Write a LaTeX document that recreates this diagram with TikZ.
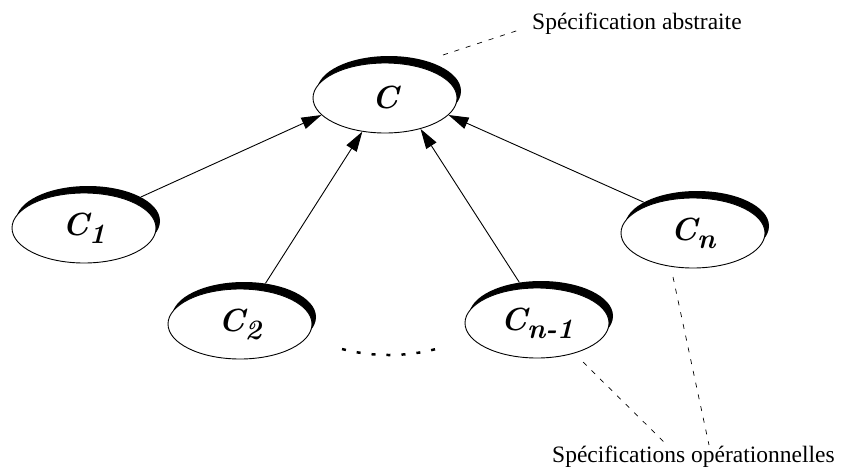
\documentclass[tikz,border=0pt]{standalone}
\usepackage{fontspec}
\newfontfamily\tnr{Liberation Serif}
\usetikzlibrary{arrows.meta,shapes.geometric}
\newcommand{\subsc}[1]{\raisebox{-8pt}{\fontsize{28}{28}\selectfont #1}}
\begin{document}
\begin{tikzpicture}[x=1pt,y=-1pt,
  ell/.style={ellipse,draw,fill=white,line width=0.9pt,minimum width=144pt,minimum height=70pt,inner sep=0pt,font=\fontsize{32}{32}\selectfont\bfseries\itshape},
  shadowell/.style={ellipse,fill=black,minimum width=144pt,minimum height=70pt,inner sep=0pt},
  link/.style={line width=0.9pt,-{Triangle[length=20pt,width=12pt]}},
  leader/.style={line width=0.7pt,dash pattern=on 5pt off 7pt},
  dots/.style={line width=2.5pt,dash pattern=on 4pt off 11pt},
  lbl/.style={font=\tnr\fontsize{23.5}{28}\selectfont,inner sep=0pt}
]
\useasboundingbox (0,0) rectangle (841,472);
% nodes
\node[shadowell] (cs) at (389,91) {};
\node[ell] (c) at (385,98) {C};
\node[shadowell] (c1s) at (88,221) {};
\node[ell] (c1) at (84,228) {C\subsc{1}};
\node[shadowell] (c2s) at (244,317) {};
\node[ell] (c2) at (240,324) {C\subsc{2}};
\node[shadowell] (cn1s) at (541,316) {};
\node[ell] (cn1) at (537,323) {C\subsc{n-1}};
\node[shadowell] (cns) at (697,226) {};
\node[ell] (cn) at (693,233) {C\subsc{n}};
% arrows
\draw[link] (c1s) -- (c.195);
\draw[link] (c2s) -- (c.236);
\draw[link] (cn1s) -- (c.319);
\draw[link] (cns) -- (c.345);
% dotted ellipsis
\coordinate (d1) at (342,349);
\coordinate (d2) at (436,349);
\draw[dots] (d1) .. controls (372,357) and (406,357) .. (d2);
% labels
\node[lbl,anchor=base west] (abs) at (532,29) {Spécification abstraite};
\node[lbl,anchor=base west] (ops) at (552,462) {Spécifications opérationnelles};
\coordinate (a0) at (443,55);
\coordinate (a1) at (522,29);
\draw[leader] (a0) -- (a1);
\coordinate (o0) at (583,362);
\coordinate (o1) at (665,443);
\coordinate (o2) at (673,277);
\coordinate (o3) at (709,445);
\draw[leader] (o0) -- (o1);
\draw[leader] (o2) -- (o3);
\end{tikzpicture}
\end{document}
